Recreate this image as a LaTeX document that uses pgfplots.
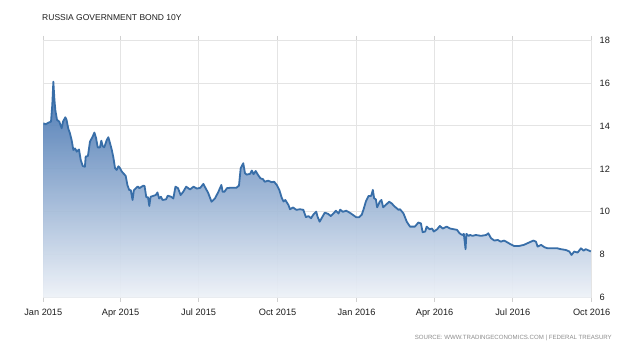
\documentclass[border=0pt]{standalone}
\usepackage{pgfplots}
\pgfplotsset{compat=1.18}
\usepackage{pgfplotstable}
\usepackage{fontspec}
\setmainfont{Liberation Sans}
\definecolor{linec}{RGB}{56,110,168}
\definecolor{topc}{RGB}{58,108,172}
\definecolor{botc}{RGB}{238,242,248}
\definecolor{gridc}{RGB}{228,228,228}
\definecolor{txt}{RGB}{30,30,30}
\pgfplotstableread{
day value
0 14.12
3 14.08
6 14.15
9 14.2
10.5 15.0
11.7 16.06
13 15.2
14 14.74
16 14.28
18.6 14.2
21.4 13.89
23 14.2
25.6 14.4
27 14.3
29 13.89
31 13.66
33 13.34
35 12.88
37 12.95
39 12.8
41.6 12.9
43.6 12.41
46 12.13
48.5 12.1
49.4 12.57
52 12.6
54.4 13.27
57.5 13.5
59.5 13.69
61.4 13.45
63.4 13.0
66 13.0
67.6 13.31
69.2 13.06
71 13.0
73.9 13.34
75.8 13.47
77.7 13.2
79.7 12.9
81.6 12.54
83.6 12.03
85.5 11.95
87.5 12.12
89.4 12.03
91 11.9
93.3 11.79
95 11.72
96 11.67
98 11.25
100 11.02
102 11.0
104 10.55
105.5 11.0
108 11.1
110 11.18
112 11.1
116.6 11.22
118 11.2
120 10.68
122 10.68
123.5 10.27
125 10.7
131 10.78
133 10.9
135 10.62
137 10.7
139 10.55
143 10.58
145 10.75
149 10.7
151.5 10.62
154 11.17
157 11.1
160 10.78
163 10.93
166.5 11.17
171 11.04
175 11.17
179 11.08
183 11.12
186.5 11.3
189.5 11.07
192 10.89
196 10.47
200 10.62
204 10.93
207.5 11.25
209 10.93
211 10.93
214 11.1
218 11.12
225 11.12
228 11.22
230 12.03
233 12.26
235 11.8
237 11.73
241 11.77
243 11.92
245 11.75
247.5 11.9
250 11.73
253 11.56
256 11.52
258 11.4
262 11.45
266 11.38
269 11.4
272 11.25
275 11.02
278 10.63
280 10.48
282 10.55
285.6 10.32
287.5 10.12
291 10.2
295 10.09
299 10.12
303 10.09
306 9.75
309 9.8
312 9.7
314.5 9.86
318 10.01
319.5 9.78
322 9.54
325 9.75
328 9.96
332 9.9
335 9.8
337.5 9.9
341 10.05
344 9.92
346 10.1
349 10.0
353 10.05
357 9.96
361 9.85
364.5 9.75
368 9.75
371 9.86
373 10.09
376 10.5
379 10.74
382 10.74
384 11.02
385.5 10.63
387.5 10.58
389 10.21
392 10.47
394 10.55
396 10.21
399 10.32
403 10.47
406 10.39
409 10.26
414 10.09
415.6 10.12
419.6 9.93
423.5 9.54
427.3 9.31
433 9.31
437 9.5
440 9.46
442 9.05
445 9.08
446.7 9.31
450 9.19
453 9.22
455 9.08
459 9.19
462 9.34
465.5 9.22
470 9.31
474 9.22
478 9.19
482 9.16
485 9.0
488 8.92
490 8.97
492 8.26
493 8.97
495.5 8.88
497.5 8.92
500 8.88
504 8.92
510 8.88
516 8.92
518.5 9.0
521.7 8.77
525.6 8.66
529.5 8.69
533 8.61
537 8.66
541 8.57
544 8.5
548.6 8.41
554.5 8.41
560 8.46
566 8.57
571 8.66
574 8.61
576 8.38
580 8.46
584 8.35
587.7 8.3
593.5 8.3
599 8.3
603 8.26
609 8.22
613 8.15
615.5 7.99
618.6 8.15
622.5 8.1
626.5 8.3
629.6 8.19
632 8.26
636 8.19
638 8.15
}\bonddata
\begin{document}
\begin{tikzpicture}
\useasboundingbox (0,0) rectangle (640pt,351pt);
\fill[white] (0,0) rectangle (640pt,351pt);
\begin{axis}[
  at={(43.3pt,53.3pt)}, anchor=south west,
  scale only axis, width=548.4pt, height=257.7pt,
  xmin=0, xmax=639, ymin=6, ymax=18,
  xtick={0,90,181,273,365,456,547,639},
  xticklabels={Jan 2015,Apr 2015,Jul 2015,Oct 2015,Jan 2016,Apr 2016,Jul 2016,Oct 2016},
  ytick={6,8,10,12,14,16,18},
  yticklabel pos=right,
  grid=major,
  grid style={draw=gridc, line width=0.8pt},
  axis line style={draw=none},
  tick align=outside,
  major tick length=4pt,
  xtick style={draw=gridc!80!gray, line width=0.8pt},
  ytick style={draw=none},
  /pgf/number format/assume math mode=true,
  tick label style={font=\fontsize{9.2}{11}\selectfont, text=txt},
  xticklabel style={yshift=-4pt},
  yticklabel style={anchor=west, xshift=0.5pt},
  clip=true,
]
\addplot[draw=none, top color=topc, bottom color=botc, fill opacity=0.92] table[x=day, y=value] {\bonddata} \closedcycle;
\addplot[linec, line width=1.8pt, line join=round, mark=none] table[x=day, y=value] {\bonddata};
\end{axis}
\node[anchor=base west, font=\fontsize{8.5}{10}\selectfont, text=txt] at (38.7pt,330.5pt) {RUSSIA GOVERNMENT BOND 10Y};
\node[anchor=base east, font=\fontsize{6.1}{7}\selectfont, text=black!45, inner sep=0pt] at (612pt,12pt) {SOURCE: WWW.TRADINGECONOMICS.COM | FEDERAL TREASURY};
\end{tikzpicture}
\end{document}
